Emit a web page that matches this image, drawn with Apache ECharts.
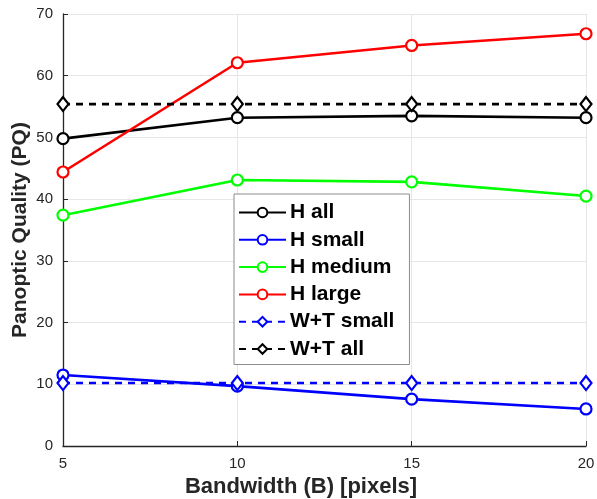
<!DOCTYPE html>
<html>
<head>
<meta charset="utf-8">
<script src="https://cdn.jsdelivr.net/npm/echarts@6/dist/echarts.min.js"></script>
<style>html,body{margin:0;padding:0;background:#fff}#c{width:597px;height:499px}</style>
</head>
<body>
<div id="c"></div>
<script>
var bandwidth = [5, 10, 15, 20];
var hAll = [49.8, 53.2, 53.5, 53.2];
var hSmall = [11.5, 9.7, 7.6, 6.0];
var hMedium = [37.4, 43.1, 42.8, 40.5];
var hLarge = [44.4, 62.1, 64.9, 66.8];
var wtSmall = [10.2, 10.2, 10.2, 10.2];
var wtAll = [55.4, 55.4, 55.4, 55.4];
var seriesNames = ['H all', 'H small', 'H medium', 'H large', 'W+T small', 'W+T all'];

function pairs(vals) { return bandwidth.map(function (b, i) { return [b, vals[i]]; }); }

function mk(name, vals, color, dashed) {
  return {
    name: name, type: 'line', data: pairs(vals),
    symbol: dashed ? 'diamond' : 'circle',
    symbolSize: dashed ? [11, 14] : 11,
    showAllSymbol: true,
    lineStyle: { color: color, width: 2.6, type: dashed ? [7, 6] : 'solid' },
    itemStyle: { color: '#fff', borderColor: color, borderWidth: 2.2 },
    emphasis: { disabled: true },
    animation: false
  };
}

var chart = echarts.init(document.getElementById('c'), null, { renderer: 'canvas' });
chart.setOption({
  animation: false,
  grid: { left: 63, right: 11, top: 14, bottom: 53, containLabel: false, outerBoundsMode: 'none' },
  xAxis: {
    type: 'value', min: 5, max: 20, interval: 5,
    name: 'Bandwidth (B) [pixels]', nameLocation: 'middle', nameGap: 29,
    nameTextStyle: { fontFamily: 'Liberation Sans, Arial', fontSize: 22, fontWeight: 'bold', color: '#262626', padding: [0, 47, 0, 0] },
    axisLine: { lineStyle: { color: '#262626', width: 1.3 } },
    axisTick: { show: true, inside: true, length: 5, lineStyle: { color: '#262626' } },
    axisLabel: { fontFamily: 'Liberation Sans, Arial', fontSize: 15, color: '#262626', margin: 10 },
    splitLine: { show: true, lineStyle: { color: '#e6e6e6', width: 1 } }
  },
  yAxis: {
    type: 'value', min: 0, max: 70, interval: 10,
    name: 'Panoptic Quality (PQ)', nameLocation: 'middle', nameGap: 32, nameMoveOverlap: false,
    nameTextStyle: { fontFamily: 'Liberation Sans, Arial', fontSize: 21, fontWeight: 'bold', color: '#262626' },
    axisLine: { show: true, lineStyle: { color: '#262626', width: 1.3 } },
    axisTick: { show: true, inside: true, length: 5, lineStyle: { color: '#262626' } },
    axisLabel: { fontFamily: 'Liberation Sans, Arial', fontSize: 15, color: '#262626', margin: 10 },
    splitLine: { show: true, lineStyle: { color: '#e6e6e6', width: 1 } }
  },
  legend: {
    orient: 'vertical', left: 234, top: 194,
    data: seriesNames,
    backgroundColor: '#fff', borderColor: '#8c8c8c', borderWidth: 1,
    padding: [8, 15, 5, 4],
    itemWidth: 47, itemHeight: 12, itemGap: 6.3,
    textStyle: { fontFamily: 'Liberation Sans, Arial', fontSize: 21, fontWeight: 'bold', color: '#000', padding: [0, 0, 0, -1] },
    selectedMode: false
  },
  series: [
    mk('H all', hAll, '#000000', false),
    mk('H small', hSmall, '#0000ff', false),
    mk('H medium', hMedium, '#00ff00', false),
    mk('H large', hLarge, '#ff0000', false),
    mk('W+T small', wtSmall, '#0000ff', true),
    mk('W+T all', wtAll, '#000000', true)
  ]
});
</script>
</body>
</html>
